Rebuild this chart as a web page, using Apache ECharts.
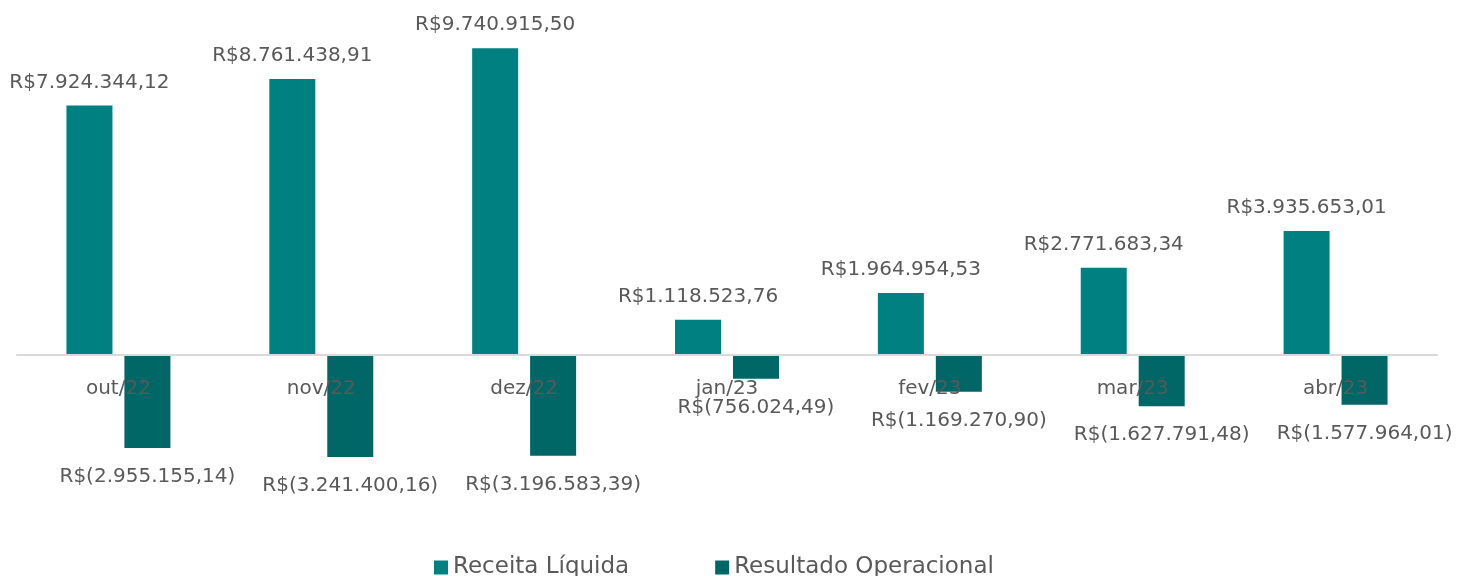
<!DOCTYPE html>
<html>
<head>
<meta charset="utf-8">
<script src="https://cdn.jsdelivr.net/npm/echarts@6/dist/echarts.min.js"></script>
<style>
  html, body { margin: 0; padding: 0; background: #fff; }
  #chart { width: 1475px; height: 576px; }
</style>
</head>
<body>
<div id="chart"></div>
<script>
// Monthly figures, Oct/22 – Apr/23
const months = ['out/22', 'nov/22', 'dez/22', 'jan/23', 'fev/23', 'mar/23', 'abr/23'];
const receitaLiquida = [7924344.12, 8761438.91, 9740915.50, 1118523.76, 1964954.53, 2771683.34, 3935653.01];
const resultadoOperacional = [-2955155.14, -3241400.16, -3196583.39, -756024.49, -1169270.90, -1627791.48, -1577964.01];

const FONT = '"DejaVu Sans", sans-serif';
const TEXT = '#595959';

// Brazilian currency: R$1.234,56 and negatives in parentheses
function brl(v) {
  const s = Math.abs(v).toLocaleString('pt-BR', { minimumFractionDigits: 2, maximumFractionDigits: 2 });
  return v < 0 ? 'R$(' + s + ')' : 'R$' + s;
}

const chart = echarts.init(document.getElementById('chart'));
chart.setOption({
  animation: false,
  grid: { left: 17, right: 38, top: 40, bottom: 95, containLabel: false },
  xAxis: {
    type: 'category',
    data: months,
    z: 10,
    axisLine: { onZero: true, lineStyle: { color: '#d9d9d9', width: 2 } },
    axisTick: { show: false },
    // month names sit just under the zero line, over the negative bars
    axisLabel: { color: TEXT, fontFamily: FONT, fontSize: 20, margin: -102 }
  },
  yAxis: {
    type: 'value',
    min: -4000000,
    max: 10000000,
    show: false,
    splitLine: { show: false }
  },
  legend: {
    top: 551,
    left: 429,
    itemWidth: 14,
    itemHeight: 14,
    itemGap: 86,
    icon: 'rect',
    textStyle: { color: TEXT, fontFamily: FONT, fontSize: 23 },
    data: ['Receita Líquida', 'Resultado Operacional']
  },
  series: [
    {
      name: 'Receita Líquida',
      type: 'bar',
      data: receitaLiquida,
      barWidth: 46,
      barGap: '26%',
      itemStyle: { color: '#008080' },
      label: {
        show: true,
        position: 'top',
        distance: 13,
        color: TEXT,
        fontFamily: FONT,
        fontSize: 20,
        formatter: p => brl(p.value)
      }
    },
    {
      name: 'Resultado Operacional',
      type: 'bar',
      data: resultadoOperacional,
      barWidth: 46,
      itemStyle: { color: '#006666' },
      label: {
        show: true,
        position: 'bottom',
        distance: 19,
        color: TEXT,
        fontFamily: FONT,
        fontSize: 20,
        formatter: p => brl(p.value)
      }
    }
  ]
});
</script>
</body>
</html>
